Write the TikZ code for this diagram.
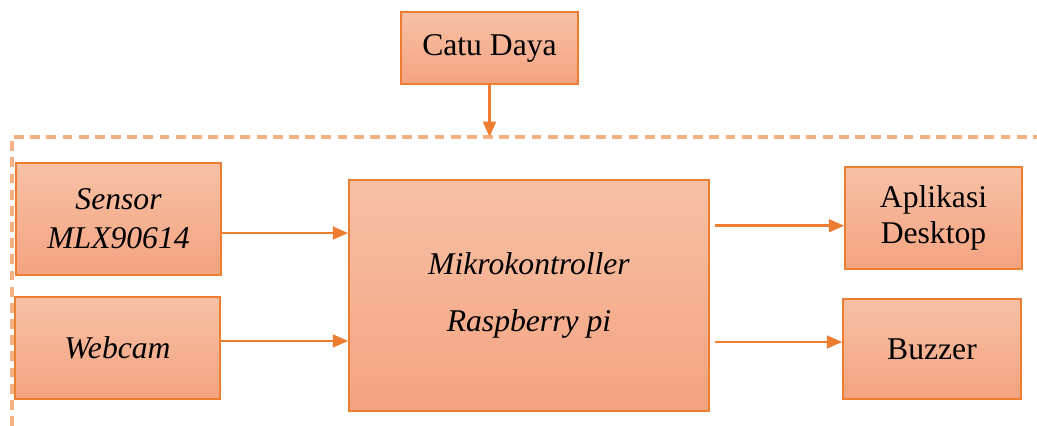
\documentclass[tikz,border=0pt]{standalone}
\usepackage{fontspec}
\setmainfont{Liberation Serif}
\usetikzlibrary{arrows.meta}
\definecolor{boxline}{RGB}{237,125,49}
\definecolor{boxtop}{RGB}{247,193,166}
\definecolor{boxbot}{RGB}{244,163,128}
\definecolor{dashline}{RGB}{244,177,131}

\begin{document}
\begin{tikzpicture}[x=0.025cm,y=-0.025cm,
	box/.style={draw=boxline,line width=1pt,top color=boxtop,bottom color=boxbot,
		inner sep=0pt,align=center,font=\fontsize{22.5}{26}\selectfont},
	flow/.style={draw=boxline,line width=2pt,-{Triangle[length=11pt,width=9pt]}}]
\useasboundingbox (0,0) rectangle (1037,426);
%----------------------------
% Power supply and system border
%----------------------------
\node[box,minimum width=4.425cm,minimum height=1.8cm] (catu) at (489.5,48) {Catu Daya};
\coordinate (dleft) at (12,426);
\coordinate (dcorner) at (12,137);
\coordinate (dright) at (1037,137);
\draw[dashline,line width=2.8pt,dash pattern=on 7pt off 4.5pt] (dleft) -- (dcorner) -- (dright);
\draw[flow] (catu.south) -- (catu.south |- dcorner);

%----------------------------
% Inputs
%----------------------------
\node[box,minimum width=5.125cm,minimum height=2.8cm,
	font=\fontsize{22.5}{27.5}\selectfont\itshape] (sensor) at (118.5,219) {Sensor\\MLX90614};
\node[box,minimum width=5.125cm,minimum height=2.55cm] (webcam) at (117.5,348) {\itshape Webcam};

%----------------------------
% Controller
%----------------------------
\node[box,minimum width=9cm,minimum height=5.775cm] (mikro) at (529,295.5)
	{\itshape Mikrokontroller\\[14pt]\itshape Raspberry pi};

%----------------------------
% Outputs
%----------------------------
\node[box,minimum width=4.425cm,minimum height=2.55cm] (aplikasi) at (933.5,218) {Aplikasi\\Desktop};
\node[box,minimum width=4.45cm,minimum height=2.5cm] (buzzer) at (932,349) {Buzzer};

% Connections
\coordinate (sensorout) at ([yshift=-10pt]sensor.east);
\coordinate (webcamout) at ([yshift=5pt]webcam.east);
\coordinate (aplikasiin) at ([yshift=-5.5pt]aplikasi.west);
\coordinate (buzzerin) at ([yshift=5pt]buzzer.west);
\draw[flow] (sensorout) -- (sensorout -| mikro.west);
\draw[flow] (webcamout) -- (webcamout -| mikro.west);
\draw[flow,shorten <=4pt] (aplikasiin -| mikro.east) -- (aplikasiin);
\draw[flow,shorten <=4pt] (buzzerin -| mikro.east) -- (buzzerin);
\end{tikzpicture}
\end{document}
